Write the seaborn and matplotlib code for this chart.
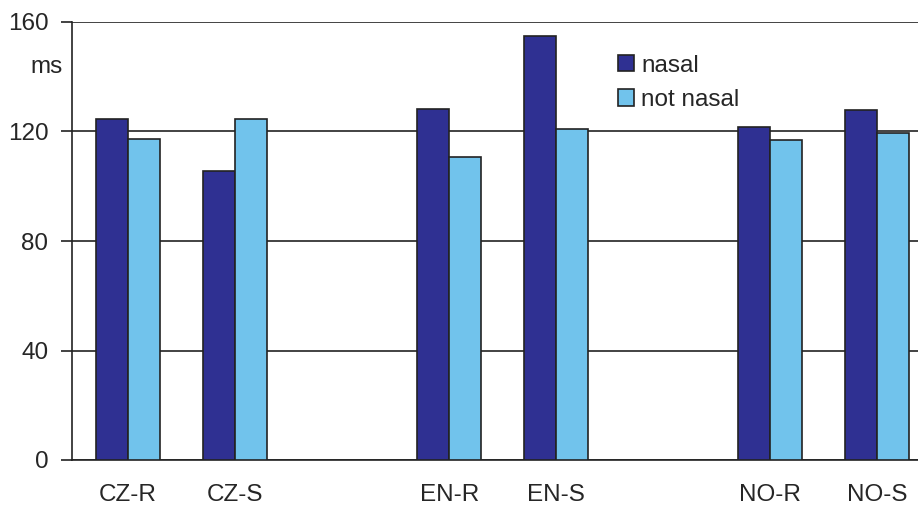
import matplotlib
matplotlib.use("Agg")
import matplotlib.pyplot as plt
import seaborn as sns
import pandas as pd

categories = ["CZ-R", "CZ-S", "EN-R", "EN-S", "NO-R", "NO-S"]
slot_order = ["CZ-R", "CZ-S", "", "EN-R", "EN-S", " ", "NO-R", "NO-S"]
nasal = [124.6, 105.5, 128.1, 154.9, 121.6, 127.7]
not_nasal = [117.3, 124.6, 110.8, 121.0, 116.8, 119.5]
series_names = ["nasal", "not nasal"]
yticks = [0, 40, 80, 120, 160]

df = pd.DataFrame({
    "cat": categories * 2,
    "value": nasal + not_nasal,
    "series": [series_names[0]] * len(categories) + [series_names[1]] * len(categories),
})

sns.set_style("white")
plt.rcParams["font.family"] = ["Liberation Sans", "DejaVu Sans"]

fs = 17.5
fig = plt.figure(figsize=(9.18, 5.05), dpi=100)
ax = fig.add_axes([72 / 918, 45 / 505, 1 - 72 / 918, 438 / 505])

sns.barplot(data=df, x="cat", y="value", hue="series", order=slot_order,
            hue_order=series_names, palette=["#2F3092", "#71C3EC"],
            width=0.6, gap=0, edgecolor="#222222", linewidth=1.2,
            saturation=1, errorbar=None, ax=ax, zorder=3)

ax.set_ylim(0, 160)
ax.set_xlim(-0.523, 7.38)
ax.set_yticks(yticks)
ax.set_yticklabels([str(v) for v in yticks], fontsize=fs)
ax.set_xticks(range(len(slot_order)))
ax.set_xticklabels(slot_order, fontsize=fs)
ax.tick_params(axis="x", length=0, pad=17)
ax.tick_params(axis="y", length=8, width=1.2, color="#222222", direction="out", pad=9, left=True)
ax.yaxis.grid(True, color="#222222", linewidth=1.2, zorder=0)
ax.set_axisbelow(True)
for s in ["top", "right"]:
    ax.spines[s].set_visible(False)
for s in ["left", "bottom"]:
    ax.spines[s].set_color("#222222")
    ax.spines[s].set_linewidth(1.2)
ax.set_xlabel("")
ax.set_ylabel("")

ax.text(-0.0106, 143.6, "ms", transform=ax.get_yaxis_transform(), ha="right",
        va="center", fontsize=fs)

leg = ax.legend(loc="upper left", bbox_to_anchor=(0.62, 0.975), frameon=False,
                fontsize=fs, handlelength=0.65, handleheight=0.65,
                handletextpad=0.3, labelspacing=0.5)
for h in leg.legend_handles:
    h.set_edgecolor("#222222")

fig.savefig("out.png", dpi=100)
